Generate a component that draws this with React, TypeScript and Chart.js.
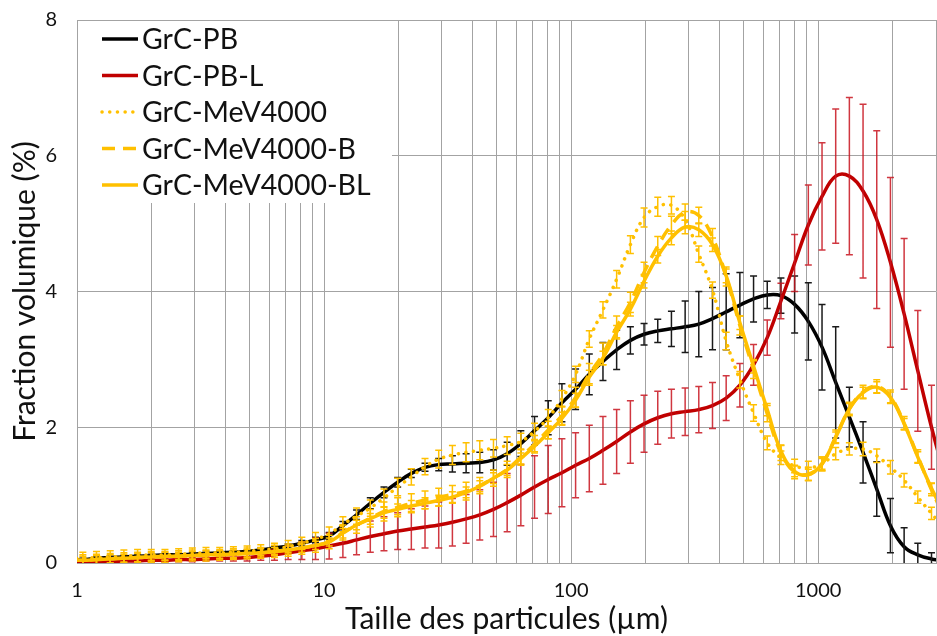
import { useEffect, useRef } from "react";
import { Chart, registerables } from "chart.js";

Chart.register(...registerables);

// Particle size classes (µm), geometric centres of the analyser bins
const sizes = [0.9293, 1.056, 1.199, 1.363, 1.548, 1.759, 1.998, 2.270, 2.579, 2.930, 3.328, 3.781, 4.296, 4.881, 5.545, 6.299, 7.156, 8.130, 9.237,
  10.49, 11.92, 13.54, 15.39, 17.48, 19.86, 22.56, 25.63, 29.12, 33.08,
  37.59, 42.70, 48.51, 55.11, 62.61, 71.13, 80.81, 91.81, 104.3, 118.5,
  134.6, 152.9, 173.8, 197.4, 224.3, 254.8, 289.5, 328.8, 373.6, 424.4,
  482.2, 547.8, 622.3, 707.0, 803.2, 912.6, 1037, 1178, 1338, 1520,
  1727, 1962, 2229, 2532, 2877, 3269];

const seriesLabels = ["GrC-PB", "GrC-PB-L", "GrC-MeV4000", "GrC-MeV4000-B", "GrC-MeV4000-BL"];

const grcPB = [0.05, 0.05, 0.07, 0.08, 0.09, 0.10, 0.11, 0.12, 0.12, 0.13, 0.14, 0.15, 0.16, 0.17, 0.19, 0.22, 0.25, 0.29, 0.34,
  0.40, 0.55, 0.71, 0.88, 1.04, 1.19, 1.32, 1.41, 1.45, 1.46,
  1.47, 1.48, 1.52, 1.61, 1.76, 1.95, 2.14, 2.36, 2.56, 2.78,
  2.97, 3.14, 3.28, 3.37, 3.42, 3.45, 3.48, 3.52, 3.60, 3.70,
  3.80, 3.89, 3.95, 3.94, 3.81, 3.56, 3.18, 2.66, 2.15, 1.63,
  1.09, 0.55, 0.24, 0.12, 0.06, 0.03];
const errPB = [0.02, 0.02, 0.02, 0.02, 0.02, 0.02, 0.02, 0.02, 0.02, 0.02, 0.02, 0.02, 0.02, 0.02, 0.03, 0.03, 0.03, 0.04, 0.04,
  0.05, 0.06, 0.07, 0.08, 0.08, 0.07, 0.06, 0.06, 0.09, 0.12,
  0.14, 0.15, 0.15, 0.17, 0.19, 0.21, 0.25, 0.28, 0.30, 0.30,
  0.28, 0.29, 0.20, 0.16, 0.17, 0.26, 0.38, 0.48, 0.46, 0.56,
  0.48, 0.34, 0.20, 0.26, 0.42, 0.57, 0.63, 0.82, 0.44, 0.45,
  0.40, 0.40, 0.28, 0.17, 0.09, 0.05];

const grcPBL = [0.01, 0.01, 0.02, 0.02, 0.03, 0.03, 0.04, 0.04, 0.05, 0.05, 0.06, 0.07, 0.07, 0.08, 0.10, 0.12, 0.15, 0.18, 0.21,
  0.25, 0.29, 0.34, 0.39, 0.43, 0.47, 0.50, 0.53, 0.56, 0.60,
  0.65, 0.71, 0.79, 0.89, 1.00, 1.12, 1.23, 1.33, 1.44, 1.54,
  1.66, 1.79, 1.93, 2.05, 2.14, 2.20, 2.23, 2.26, 2.32, 2.43,
  2.62, 2.92, 3.32, 3.86, 4.42, 4.98, 5.40, 5.70, 5.70, 5.48,
  5.06, 4.43, 3.67, 2.83, 2.00, 1.25];
const errPBL = [0.03, 0.03, 0.03, 0.03, 0.03, 0.03, 0.03, 0.03, 0.03, 0.03, 0.03, 0.04, 0.04, 0.05, 0.06, 0.08, 0.10, 0.13, 0.16,
  0.19, 0.21, 0.22, 0.23, 0.25, 0.27, 0.30, 0.31, 0.34, 0.35,
  0.36, 0.37, 0.40, 0.43, 0.45, 0.46, 0.50, 0.50, 0.48, 0.49,
  0.50, 0.47, 0.46, 0.42, 0.39, 0.36, 0.35, 0.34, 0.34, 0.33,
  0.32, 0.30, 0.26, 0.26, 0.42, 0.59, 0.79, 0.99, 1.16, 1.28,
  1.31, 1.25, 1.11, 0.89, 0.62, 0.50];

const grcMeV = [0.06, 0.07, 0.08, 0.09, 0.10, 0.11, 0.12, 0.12, 0.13, 0.14, 0.15, 0.15, 0.16, 0.17, 0.19, 0.21, 0.24, 0.29, 0.35,
  0.43, 0.57, 0.69, 0.81, 0.96, 1.12, 1.27, 1.42, 1.53, 1.59,
  1.63, 1.66, 1.69, 1.73, 1.79, 1.94, 2.14, 2.42, 2.78, 3.30,
  3.73, 4.18, 4.69, 5.09, 5.25, 5.27, 5.06, 4.55, 4.02, 3.27,
  2.70, 2.21, 1.77, 1.55, 1.43, 1.40, 1.46, 1.61, 1.68, 1.68,
  1.58, 1.41, 1.22, 0.97, 0.73, 0.50];
const errMeV = [0.09, 0.09, 0.09, 0.09, 0.09, 0.09, 0.08, 0.08, 0.08, 0.08, 0.08, 0.08, 0.08, 0.08, 0.08, 0.08, 0.09, 0.09, 0.10,
  0.10, 0.11, 0.12, 0.12, 0.13, 0.13, 0.12, 0.12, 0.13, 0.14,
  0.14, 0.14, 0.13, 0.13, 0.12, 0.12, 0.12, 0.12, 0.12, 0.12,
  0.12, 0.13, 0.13, 0.14, 0.14, 0.13, 0.12, 0.12, 0.12, 0.13,
  0.12, 0.12, 0.10, 0.10, 0.10, 0.10, 0.10, 0.09, 0.09, 0.10,
  0.10, 0.10, 0.10, 0.09, 0.09, 0.08];

const grcMeVB = [0.04, 0.04, 0.05, 0.06, 0.07, 0.08, 0.09, 0.09, 0.10, 0.11, 0.11, 0.12, 0.13, 0.14, 0.15, 0.17, 0.19, 0.22, 0.26,
  0.31, 0.45, 0.56, 0.66, 0.76, 0.82, 0.88, 0.93, 0.97, 1.01,
  1.06, 1.14, 1.25, 1.38, 1.56, 1.75, 1.96, 2.17, 2.44, 2.78,
  3.08, 3.48, 3.84, 4.28, 4.67, 4.98, 5.17, 5.12, 4.80, 4.22,
  3.50, 2.85, 2.20, 1.62, 1.34, 1.31, 1.46, 1.86, 2.27, 2.52,
  2.60, 2.45, 2.06, 1.57, 1.08, 0.65];
const errMeVB = [0.08, 0.08, 0.08, 0.08, 0.08, 0.08, 0.08, 0.08, 0.08, 0.08, 0.08, 0.08, 0.08, 0.08, 0.08, 0.09, 0.09, 0.09, 0.10,
  0.10, 0.11, 0.12, 0.13, 0.14, 0.14, 0.14, 0.13, 0.13, 0.13,
  0.13, 0.12, 0.12, 0.12, 0.12, 0.13, 0.13, 0.14, 0.15, 0.16,
  0.16, 0.16, 0.15, 0.15, 0.14, 0.13, 0.12, 0.12, 0.13, 0.14,
  0.14, 0.13, 0.12, 0.11, 0.10, 0.10, 0.10, 0.10, 0.10, 0.10,
  0.10, 0.10, 0.10, 0.10, 0.09, 0.08];

const grcMeVBL = [0.04, 0.04, 0.05, 0.06, 0.07, 0.08, 0.09, 0.10, 0.10, 0.11, 0.12, 0.12, 0.13, 0.14, 0.15, 0.17, 0.19, 0.22, 0.26,
  0.31, 0.44, 0.56, 0.65, 0.74, 0.79, 0.84, 0.88, 0.92, 0.97,
  1.04, 1.13, 1.25, 1.37, 1.54, 1.72, 1.92, 2.13, 2.40, 2.74,
  3.02, 3.40, 3.74, 4.15, 4.52, 4.79, 4.95, 4.91, 4.69, 4.23,
  3.54, 2.90, 2.26, 1.65, 1.35, 1.30, 1.46, 1.85, 2.27, 2.51,
  2.59, 2.44, 2.05, 1.56, 1.10, 0.70];
const errMeVBL = [0.06, 0.06, 0.06, 0.06, 0.06, 0.06, 0.06, 0.06, 0.06, 0.06, 0.06, 0.06, 0.06, 0.06, 0.06, 0.06, 0.06, 0.06, 0.06,
  0.06, 0.07, 0.07, 0.08, 0.08, 0.08, 0.08, 0.08, 0.08, 0.08,
  0.08, 0.08, 0.08, 0.08, 0.08, 0.08, 0.09, 0.09, 0.10, 0.10,
  0.10, 0.10, 0.10, 0.10, 0.10, 0.10, 0.10, 0.10, 0.10, 0.10,
  0.10, 0.10, 0.09, 0.09, 0.08, 0.08, 0.08, 0.08, 0.08, 0.08,
  0.08, 0.08, 0.08, 0.08, 0.08, 0.07];

// Axis ticks / grid
const xGridValues = [1, 2, 3, 4, 5, 6, 7, 8, 9, 10, 20, 30, 40, 50, 60, 70, 80, 90,
  100, 200, 300, 400, 500, 600, 700, 800, 900, 1000, 2000, 3000];
const xTickLabels = [1, 10, 100, 1000];
const yTicks = [0, 2, 4, 6, 8];

const FONT = "Lato, 'Open Sans', 'DejaVu Sans', sans-serif";
const TEXT = "#111111";
const GRID = "#a3a3a3";

export default function App() {
  const ref = useRef<HTMLCanvasElement>(null);

  useEffect(() => {
    if (!ref.current) return;
    const seriesValues = [grcPB, grcPBL, grcMeV, grcMeVB, grcMeVBL];
    const seriesErrors = [errPB, errPBL, errMeV, errMeVB, errMeVBL];
    const colors = ["#000000", "#C00000", "#FFC000", "#FFC000", "#FFC000"];
    const errColors = ["#1a1a1a", "rgba(200,20,30,0.85)", "#FFC000", "#FFC000", "#FFC000"];
    const dashes: number[][] = [[], [], [0.1, 7.6], [13, 8], []];
    const orders = [5, 4, 3, 2, 1];

    const errorBars = {
      id: "errorBars",
      afterDatasetDraw(chart: any, args: any) {
        const i = args.index;
        const errs = seriesErrors[i];
        const ds = chart.data.datasets[i];
        const xs = chart.scales.x;
        const ys = chart.scales.y;
        const a = chart.chartArea;
        const ctx = chart.ctx;
        ctx.save();
        ctx.beginPath();
        ctx.rect(a.left, a.top, a.right - a.left, a.bottom - a.top);
        ctx.clip();
        ctx.strokeStyle = errColors[i];
        ctx.lineWidth = 1.5;
        ctx.setLineDash([]);
        ctx.lineCap = "butt";
        ctx.beginPath();
        ds.data.forEach((p: any, j: number) => {
          const e = errs[j];
          const x = xs.getPixelForValue(p.x);
          const y1 = ys.getPixelForValue(p.y + e);
          const y2 = ys.getPixelForValue(p.y - e);
          ctx.moveTo(x, y1);
          ctx.lineTo(x, y2);
          ctx.moveTo(x - 3.5, y1);
          ctx.lineTo(x + 3.5, y1);
          ctx.moveTo(x - 3.5, y2);
          ctx.lineTo(x + 3.5, y2);
        });
        ctx.stroke();
        ctx.restore();
      },
    };

    const boxLegend = {
      id: "boxLegend",
      afterDraw(chart: any) {
        const ctx = chart.ctx;
        const a = chart.chartArea;
        ctx.save();
        ctx.fillStyle = "#ffffff";
        ctx.fillRect(a.left + 1, a.top + 1, 314, 182);
        chart.data.datasets.forEach((ds: any, i: number) => {
          const y = a.top + 19 + i * 36.5;
          ctx.strokeStyle = ds.borderColor;
          ctx.lineWidth = ds.borderWidth;
          ctx.setLineDash(ds.borderDash || []);
          ctx.lineCap = ds.borderCapStyle || "butt";
          ctx.beginPath();
          ctx.moveTo(a.left + 25, y);
          ctx.lineTo(a.left + 61, y);
          ctx.stroke();
          ctx.setLineDash([]);
          ctx.fillStyle = TEXT;
          ctx.font = `28.5px ${FONT}`;
          ctx.textAlign = "left";
          ctx.textBaseline = "middle";
          ctx.fillText(ds.label, a.left + 65, y + 1);
        });
        ctx.restore();
      },
    };

    const datasets = seriesLabels.map((label, i) => ({
      label,
      data: sizes.map((x, j) => ({ x, y: seriesValues[i][j] })),
      borderColor: colors[i],
      backgroundColor: colors[i],
      borderWidth: 3.5,
      borderDash: dashes[i],
      borderCapStyle: i === 2 ? "round" : "butt",
      pointRadius: 0,
      tension: 0.4,
      fill: false,
      order: orders[i],
    }));

    const chart = new Chart(ref.current, {
      type: "line",
      data: { datasets } as any,
      options: {
        animation: false,
        responsive: false,
        devicePixelRatio: 1,
        layout: { padding: { top: 20, right: 1, left: 0, bottom: 0 } },
        plugins: { legend: { display: false }, tooltip: { enabled: false } },
        scales: {
          x: {
            type: "logarithmic",
            min: 1,
            max: 3000,
            afterBuildTicks: (scale: any) => {
              scale.ticks = xGridValues.map((v) => ({ value: v }));
            },
            afterFit: (scale: any) => {
              scale.height = 73;
              scale.paddingLeft = 0;
              scale.paddingRight = 0;
              scale.paddingTop = 0;
              scale.paddingBottom = 0;
            },
            grid: { color: GRID, lineWidth: 1, drawTicks: false },
            border: { color: GRID, width: 1 },
            ticks: {
              autoSkip: false,
              maxRotation: 0,
              minRotation: 0,
              padding: 16,
              color: TEXT,
              font: { family: FONT, size: 20 },
              callback: (v: any) => (xTickLabels.includes(Number(v)) ? String(v) : ""),
            },
            title: {
              display: true,
              text: "Taille des particules (µm)",
              color: TEXT,
              font: { family: FONT, size: 30, lineHeight: 1 },
              padding: { top: 0, bottom: 2 },
            },
          },
          y: {
            type: "linear",
            min: 0,
            max: 8,
            afterBuildTicks: (scale: any) => {
              scale.ticks = yTicks.map((v) => ({ value: v }));
            },
            afterFit: (scale: any) => {
              scale.width = 77;
              scale.paddingLeft = 0;
              scale.paddingRight = 0;
              scale.paddingTop = 0;
              scale.paddingBottom = 0;
            },
            grid: { color: GRID, lineWidth: 1, drawTicks: false },
            border: { color: GRID, width: 1 },
            ticks: {
              padding: 20,
              color: TEXT,
              font: { family: FONT, size: 20 },
            },
            title: {
              display: true,
              text: "Fraction volumique (%)",
              color: TEXT,
              font: { family: FONT, size: 30, lineHeight: 1 },
              padding: { top: 10, bottom: 0 },
            },
          },
        },
      },
      plugins: [errorBars, boxLegend],
    } as any);

    return () => chart.destroy();
  }, []);

  return (
    <div style={{ position: "absolute", left: 0, top: 0, width: 937, height: 636, background: "#fff" }}>
      <canvas ref={ref} width={937} height={636} style={{ display: "block", width: 937, height: 636 }} />
    </div>
  );
}
